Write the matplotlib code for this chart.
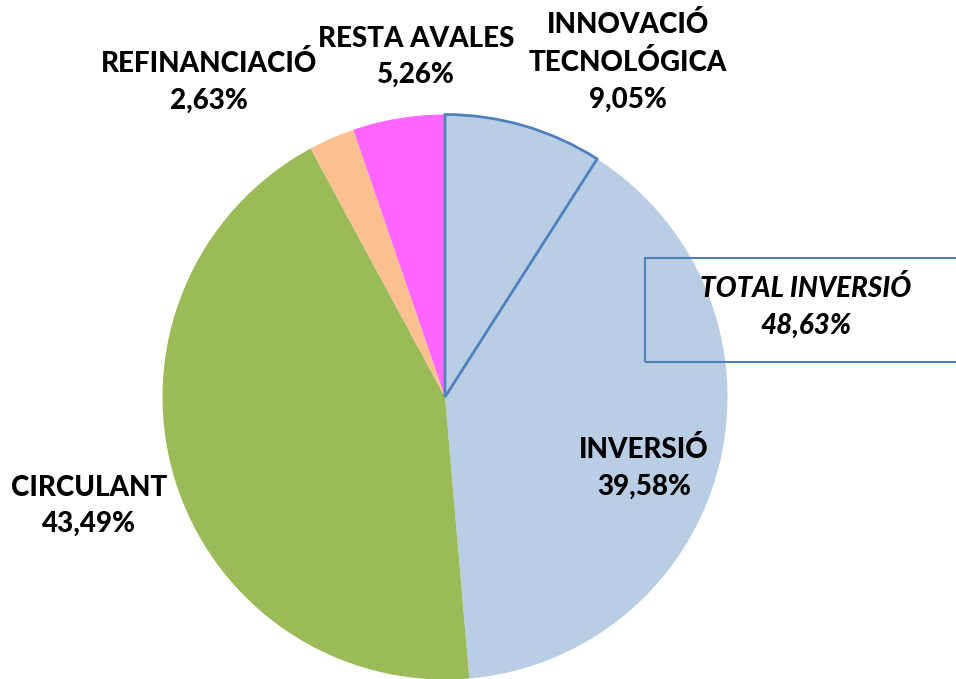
import matplotlib
matplotlib.use("Agg")
from matplotlib import pyplot as plt, patches

plt.rcParams["font.family"] = ["Lato", "DejaVu Sans"]

# data
labels = ["INNOVACIÓ\nTECNOLÓGICA", "INVERSIÓ", "CIRCULANT", "REFINANCIACIÓ", "RESTA AVALES"]
values = [9.05, 39.58, 43.49, 2.63, 5.26]
colors = ["#B9CDE5", "#B9CDE5", "#9BBB59", "#FAC090", "#FF66FF"]
total_label = "TOTAL INVERSIÓ"
total_value = values[0] + values[1]

W, H = 956, 679

def pct(v):
    return f"{v:.2f}".replace(".", ",") + "%"

fig = plt.figure(figsize=(W / 100, H / 100), dpi=100)
ax = fig.add_axes([0, 0, 1, 1])

# pie, clockwise from the top
wedges, _ = ax.pie(values, colors=colors, startangle=90, counterclock=False,
                   center=(445, H - 397), radius=282.5,
                   wedgeprops=dict(linewidth=0))
wedges[0].set_edgecolor("#4F81BD")
wedges[0].set_linewidth(2)
wedges[0].set_zorder(5)

ax.set_xlim(0, W)
ax.set_ylim(0, H)
ax.set_aspect("equal")
ax.axis("off")

# label positions in pixels (x, y from top)
label_pos = [(628, 62), (644, 468), (89, 506), (209, 82), (416, 57)]
for lab, v, (x, y) in zip(labels, values, label_pos):
    ax.text(x, H - y, lab + "\n" + pct(v), ha="center", va="center",
            fontsize=20, fontweight="black", linespacing=1.5, zorder=10)

# total inversió box
ax.add_patch(patches.Rectangle((645, H - 362), 330, 104, facecolor="none",
                               edgecolor="#4F81BD", linewidth=1.5, zorder=8,
                               clip_on=False))
ax.text(806, H - 307, total_label + "\n" + pct(total_value), ha="center", va="center",
        fontsize=20, fontweight="black", fontstyle="italic", linespacing=1.5, zorder=10)

fig.savefig("out.png", dpi=100)
